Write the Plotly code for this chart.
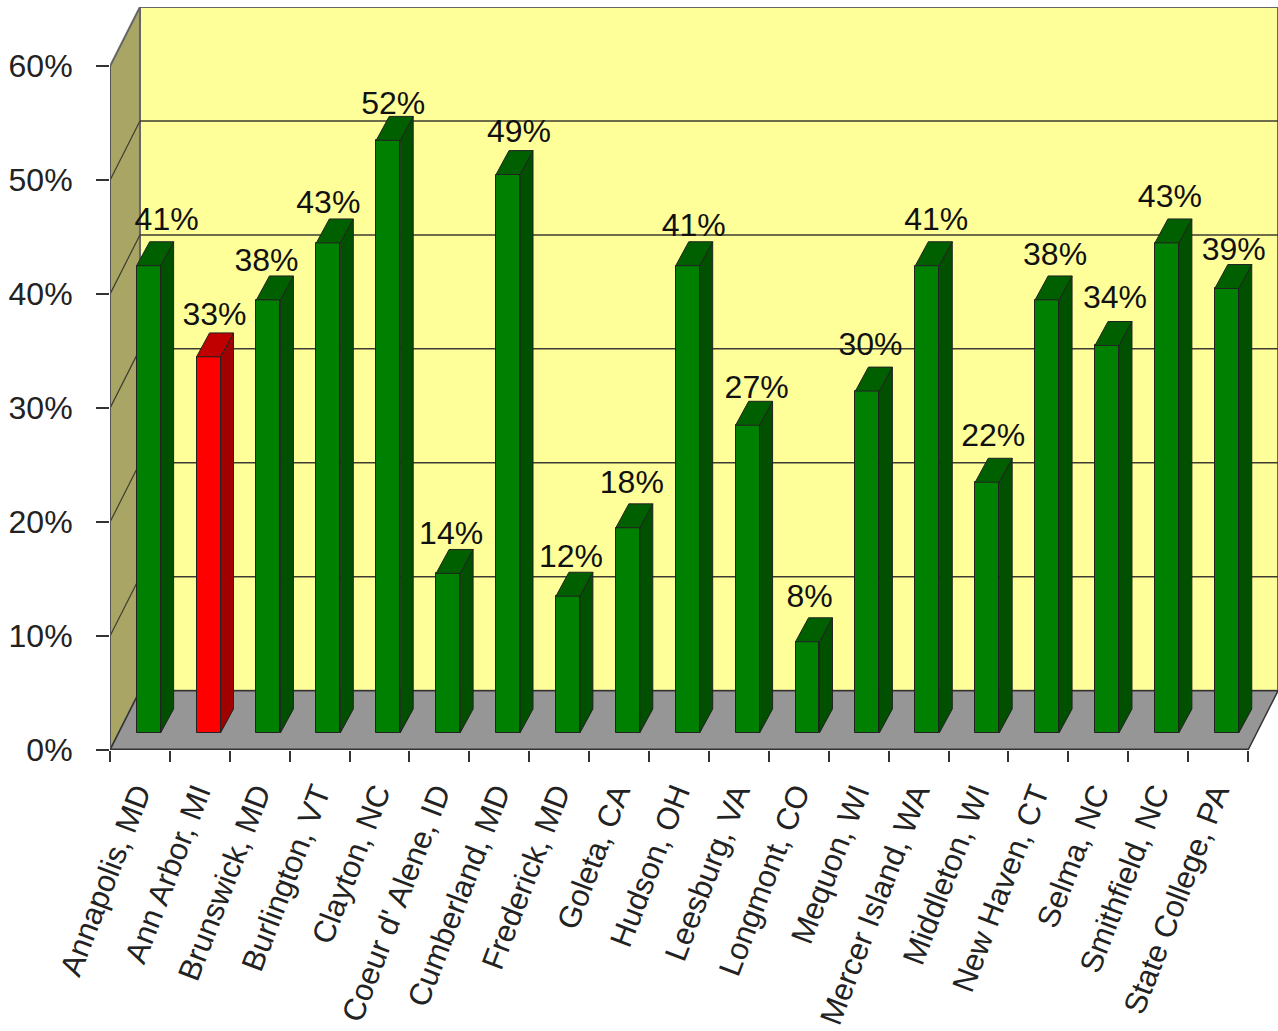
import plotly.graph_objects as go

categories = ["Annapolis, MD", "Ann Arbor, MI", "Brunswick, MD", "Burlington, VT", "Clayton, NC",
              "Coeur d' Alene, ID", "Cumberland, MD", "Frederick, MD", "Goleta, CA", "Hudson, OH",
              "Leesburg, VA", "Longmont, CO", "Mequon, WI", "Mercer Island, WA", "Middleton, WI",
              "New Haven, CT", "Selma, NC", "Smithfield, NC", "State College, PA"]
values = [41, 33, 38, 43, 52, 14, 49, 12, 18, 41, 27, 8, 30, 41, 22, 38, 34, 43, 39]
highlight = "Ann Arbor, MI"
y_ticks = [0, 10, 20, 30, 40, 50, 60]
y_tick_text = ["0%", "10%", "20%", "30%", "40%", "50%", "60%"]
# hand-placed data label nudges in the reference (pixels, from the bar's front face centre / top)
label_dx = [18, 6, -2, 0, 5, 3, 11, 3, 4, 6, 9, 2, 3, 9, 6, 8, 8, 3, 7]
label_dy = [44, 40, 37, 38, 34, 37, 41, 37, 43, 38, 35, 43, 44, 44, 44, 43, 45, 44, 36]

W, H = 1278, 1031
L, T, B = 110, 7, 281
n = len(categories)
wall_dx, wall_dy = 0.5, 5.2
x_max, y_max = n + wall_dx, 60 + wall_dy
px_x = (W - L) / x_max
px_y = (H - T - B) / y_max
bar_left, bar_w, bar_base = 0.445, 0.40, 1.5
bar_dx, bar_dy = 0.217, 2.1
DARK = "#222222"
FONT = "Liberation Sans, Arial, sans-serif"

shapes = []
def poly(pts, fill, line=DARK, width=1):
    path = "M" + " L".join(f"{x},{y}" for x, y in pts) + " Z"
    shapes.append(dict(type="path", path=path, xref="x", yref="y", fillcolor=fill,
                       line=dict(color=line, width=width), layer="below"))
def seg(x0, y0, x1, y1, width=1.5, color="#3c3c32"):
    shapes.append(dict(type="line", x0=x0, y0=y0, x1=x1, y1=y1, xref="x", yref="y",
                       line=dict(color=color, width=width), layer="below"))

poly([(wall_dx, wall_dy), (x_max, wall_dy), (x_max, y_max), (wall_dx, y_max)], "#FFFF99", "#666666", 2)
poly([(0, 0), (wall_dx, wall_dy), (wall_dx, y_max), (0, 60)], "#A9A565", "#666666", 2)
poly([(0, 0), (n, 0), (x_max, wall_dy), (wall_dx, wall_dy)], "#969696", "#333333", 1.5)
for t in y_ticks[1:-1]:
    seg(wall_dx, t + wall_dy, x_max, t + wall_dy)
    seg(0, t, wall_dx, t + wall_dy, 1.2)
seg(0, 0, 0, 60, 2, "#555555")
seg(0, 0, n, 0, 3, "#333333")

fig = go.Figure()
x_front = [i + bar_left + bar_w / 2 for i in range(n)]
front_col = ["#FF0000" if c == highlight else "#008000" for c in categories]
fig.add_trace(go.Bar(x=x_front, y=values, base=bar_base, width=bar_w,
                     marker=dict(color=front_col, line=dict(color=DARK, width=1)),
                     hoverinfo="skip"))
for i, (c, v) in enumerate(zip(categories, values)):
    red = c == highlight
    xl, xr, top = i + bar_left, i + bar_left + bar_w, v + bar_base
    side = dict(x=[xr, xr + bar_dx, xr + bar_dx, xr, xr],
                y=[bar_base, bar_base + bar_dy, top + bar_dy, top, bar_base])
    roof = dict(x=[xl, xl + bar_dx, xr + bar_dx, xr, xl],
                y=[top, top + bar_dy, top + bar_dy, top, top])
    for face, col in ((side, "#A00000" if red else "#005000"),
                      (roof, "#C00000" if red else "#006000")):
        fig.add_trace(go.Scatter(x=face["x"], y=face["y"], mode="lines", fill="toself",
                                 fillcolor=col, line=dict(color=DARK, width=1), hoverinfo="skip"))

fig.add_trace(go.Scatter(
    x=[x + d / px_x for x, d in zip(x_front, label_dx)],
    y=[v + bar_base + d / px_y for v, d in zip(values, label_dy)],
    text=[f"{v}%" for v in values], mode="text", textposition="middle center",
    textfont=dict(family=FONT, size=32, color="#111111"), cliponaxis=False, hoverinfo="skip"))

fig.update_layout(
    width=W, height=H, margin=dict(l=L, r=0, t=T, b=B, autoexpand=False), showlegend=False,
    paper_bgcolor="white", plot_bgcolor="white", shapes=shapes, bargap=0,
    xaxis=dict(range=[0, x_max], tickvals=[i + 0.45 for i in range(n)], ticktext=categories,
               tickangle=-69, ticks="", showgrid=False, zeroline=False, showline=False,
               automargin=False,
               tickfont=dict(family=FONT, size=31, color="#222222"),
               ticklabelstandoff=18,
               minor=dict(tickvals=list(range(n + 1)), ticks="outside", ticklen=11, tickwidth=2,
                          tickcolor="#333333", showgrid=False)),
    yaxis=dict(range=[0, y_max], tickvals=y_ticks, ticktext=y_tick_text, ticks="outside",
               ticklen=13, tickwidth=2, tickcolor="#333333", showgrid=False, zeroline=False,
               showline=False, ticklabelstandoff=17, automargin=False,
               tickfont=dict(family=FONT, size=32, color="#222222")),
)
fig.write_html("out.html", config=dict(displayModeBar=False),
               post_script="document.body.style.margin='0';document.body.style.overflow='hidden';")
